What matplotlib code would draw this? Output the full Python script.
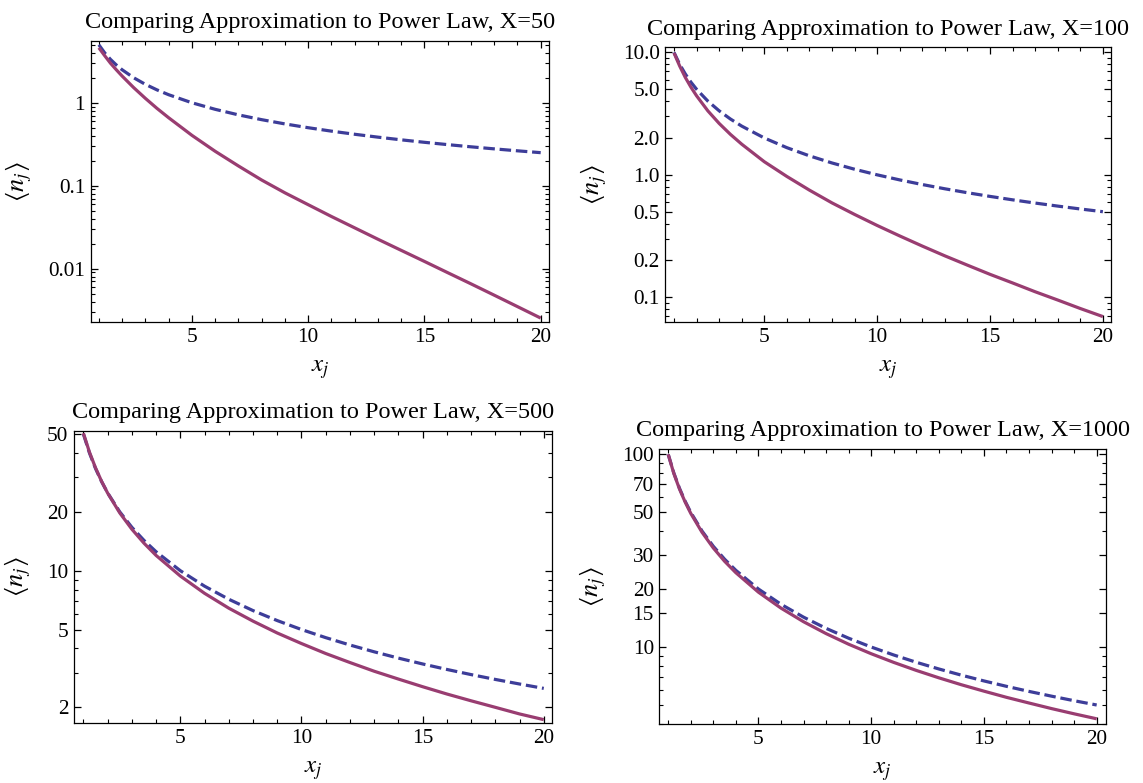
import numpy as np
import matplotlib
matplotlib.use("Agg")
import matplotlib.pyplot as plt
from matplotlib.ticker import FixedLocator, NullFormatter

plt.rcParams.update({
    "font.family": "Liberation Serif",
    "mathtext.fontset": "stix",
    "font.size": 15,
    "axes.linewidth": 0.9,
    "xtick.direction": "in",
    "ytick.direction": "in",
    "xtick.top": True,
    "ytick.right": True,
    "xtick.minor.visible": True,
    "ytick.minor.visible": True,
})

BLUE = "#3D3D99"    # power law (dashed)
PURPLE = "#993D71"  # approximation (solid)

W, H = 1143, 783

# ---- data ----
xj = [1, 1.25, 1.5, 1.75, 2, 2.5, 3, 3.5, 4, 5, 6, 7, 8, 9, 10,
      11, 12, 13, 14, 15, 16, 17, 18, 19, 20]

power_50 = [5.0, 4.0, 3.333, 2.857, 2.5, 2.0, 1.667, 1.429, 1.25, 1.0, 0.8333, 0.7143,
            0.625, 0.5556, 0.5, 0.4545, 0.4167, 0.3846, 0.3571, 0.3333, 0.3125,
            0.2941, 0.2778, 0.2632, 0.25]
approx_50 = [4.6, 3.7, 3.0, 2.5, 2.1, 1.52, 1.13, 0.855, 0.66, 0.405, 0.26, 0.173,
             0.117, 0.082, 0.059, 0.0425, 0.031, 0.0226, 0.0166, 0.0122, 0.00893,
             0.00655, 0.00478, 0.00348, 0.00253]

power_100 = [10.0, 8.0, 6.667, 5.714, 5.0, 4.0, 3.333, 2.857, 2.5, 2.0, 1.667, 1.429,
             1.25, 1.111, 1.0, 0.9091, 0.8333, 0.7692, 0.7143, 0.6667, 0.625,
             0.5882, 0.5556, 0.5263, 0.5]
approx_100 = [9.9, 7.75, 6.25, 5.2, 4.42, 3.33, 2.63, 2.14, 1.78, 1.28, 0.97, 0.75,
              0.59, 0.475, 0.386, 0.317, 0.262, 0.218, 0.183, 0.154, 0.131,
              0.111, 0.095, 0.081, 0.0696]

power_500 = [50.0, 40.0, 33.33, 28.57, 25.0, 20.0, 16.67, 14.29, 12.5, 10.0, 8.333, 7.143,
             6.25, 5.556, 5.0, 4.545, 4.167, 3.846, 3.571, 3.333, 3.125,
             2.941, 2.778, 2.632, 2.5]
approx_500 = [50.5, 40.4, 33.6, 28.66, 24.95, 19.76, 16.3, 13.83, 11.97, 9.39, 7.66, 6.43,
              5.52, 4.80, 4.24, 3.77, 3.39, 3.06, 2.79, 2.55, 2.34,
              2.16, 2.00, 1.85, 1.73]

power_1000 = [100.0, 80.0, 66.67, 57.14, 50.0, 40.0, 33.33, 28.57, 25.0, 20.0, 16.67, 14.29,
              12.5, 11.11, 10.0, 9.091, 8.333, 7.692, 7.143, 6.667, 6.25,
              5.882, 5.556, 5.263, 5.0]
approx_1000 = [100.0, 79.5, 66.1, 56.6, 49.4, 39.4, 32.66, 27.87, 24.3, 19.26, 15.92, 13.53,
               11.74, 10.34, 9.23, 8.32, 7.56, 6.92, 6.37, 5.90, 5.48,
               5.12, 4.79, 4.50, 4.24]

titles = ["X=50", "X=100", "X=500", "X=1000"]

ymajor = [
    ([0.01, 0.1, 1], ["0.01", "0.1", "1"]),
    ([0.1, 0.2, 0.5, 1, 2, 5, 10], ["0.1", "0.2", "0.5", "1.0", "2.0", "5.0", "10.0"]),
    ([2, 5, 10, 20, 50], ["2", "5", "10", "20", "50"]),
    ([10, 15, 20, 30, 50, 70, 100], ["10", "15", "20", "30", "50", "70", "100"]),
]
ylims = [(0.00225, 5.6), (0.0625, 11.0), (1.657, 52.0), (3.97, 107.0)]
xlims = [(0.65, 20.37), (0.615, 20.36), (0.6, 20.34), (0.605, 20.4)]

# axes frames in pixels: left, top, right, bottom
frames = [(90.7, 40.7, 549.3, 322.3), (665.3, 47.3, 1111, 322.3),
          (73.7, 430.7, 552, 723.3), (659.3, 448.7, 1105.7, 724.3)]

series = [(power_50, approx_50), (power_100, approx_100),
          (power_500, approx_500), (power_1000, approx_1000)]

fig = plt.figure(figsize=(W / 100, H / 100), dpi=100)

for k in range(4):
    l, t, r, b = frames[k]
    ax = fig.add_axes([l / W, 1 - b / H, (r - l) / W, (b - t) / H])
    pw, ap = series[k]
    ax.plot(xj, pw, color=BLUE, lw=2.3, ls=(0, (3.6, 1.5)), dash_capstyle="butt")
    ax.plot(xj, ap, color=PURPLE, lw=2.3, solid_capstyle="butt")
    ax.set_yscale("log")
    ax.set_xlim(*xlims[k])
    ax.set_ylim(*ylims[k])

    ax.xaxis.set_major_locator(FixedLocator([5, 10, 15, 20]))
    ax.xaxis.set_minor_locator(FixedLocator([v for v in range(1, 21) if v % 5]))
    ax.set_xticklabels(["5", "10", "15", "20"])

    maj, lab = ymajor[k]
    lo, hi = ylims[k]
    minors = []
    for e in range(-3, 3):
        for m in range(1, 10):
            v = m * 10.0 ** e
            if lo <= v <= hi and not any(abs(v - q) < 1e-9 * max(v, 1) for q in maj):
                minors.append(v)
    ax.yaxis.set_major_locator(FixedLocator(maj))
    ax.yaxis.set_minor_locator(FixedLocator(minors))
    ax.yaxis.set_minor_formatter(NullFormatter())
    ax.set_yticklabels(lab)

    ax.tick_params(which="major", length=5, width=0.9, labelsize=15.3, pad=4)
    ax.tick_params(which="minor", length=2.6, width=0.8)

    ax.set_title("Comparing Approximation to Power Law, " + titles[k],
                 fontsize=17.5, pad=9)
    ax.set_xlabel(r"$x_j$", fontsize=18, labelpad=8)
    ax.set_ylabel(r"$\langle n_j\rangle$", fontsize=19, labelpad=10)

fig.savefig("out.png", dpi=100)
